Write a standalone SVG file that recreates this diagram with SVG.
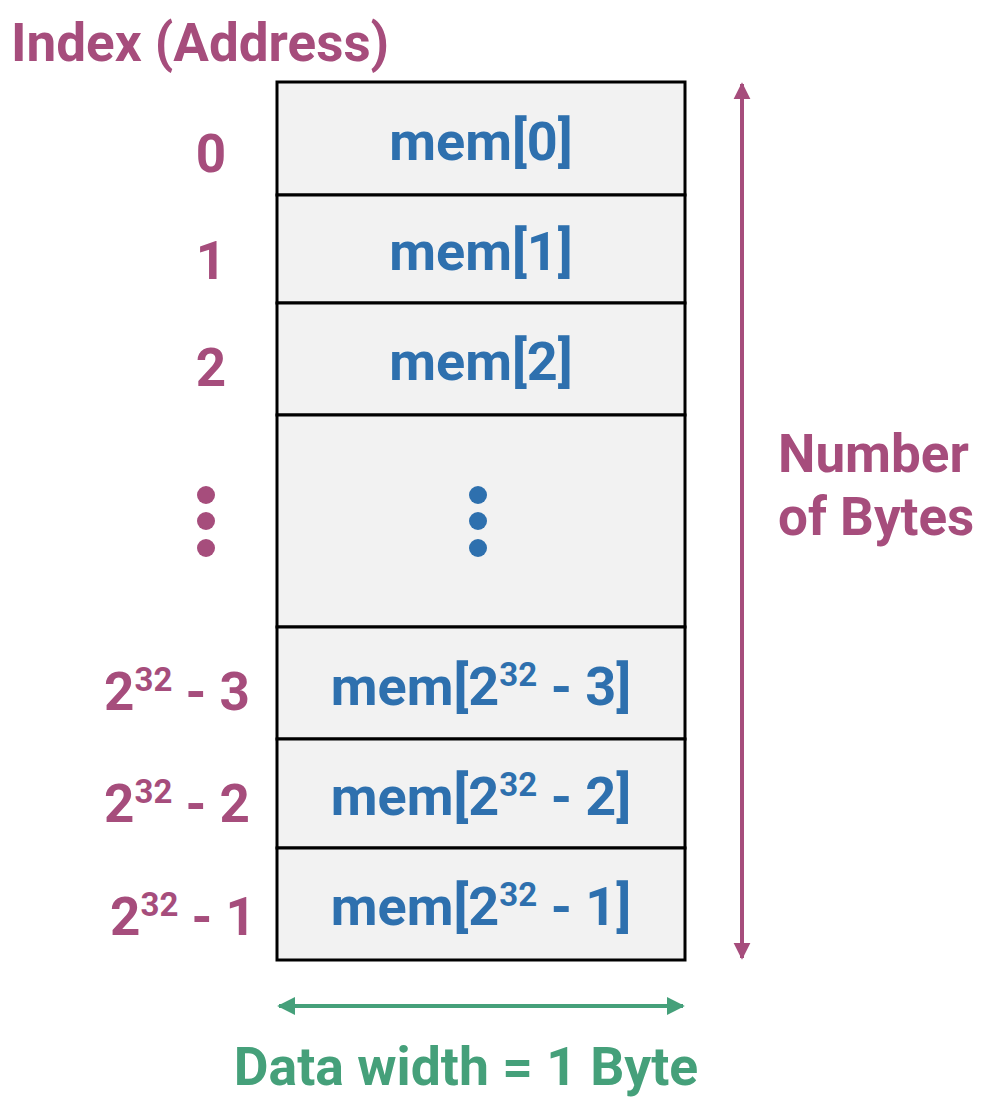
<svg xmlns="http://www.w3.org/2000/svg" width="996" height="1108" viewBox="0 0 996 1108">
<style>
.cell{fill:#f2f2f2;stroke:#000;stroke-width:3}
.m{font-family:Roboto,"Liberation Sans",sans-serif;font-weight:bold;font-size:54px;fill:#2e70ae;text-anchor:middle}
.i{font-family:Roboto,"Liberation Sans",sans-serif;font-weight:bold;font-size:53px;fill:#a64d7c;text-anchor:middle}
.t{font-family:Roboto,"Liberation Sans",sans-serif;font-weight:bold;font-size:53px;fill:#a64d7c}
.g{font-family:Roboto,"Liberation Sans",sans-serif;font-weight:bold;font-size:53.5px;fill:#45a07a;text-anchor:middle}
.sup{font-size:33px}
.pd{fill:#a64d7c}.bd{fill:#2e70ae}
</style>
<defs>
<marker id="ap" viewBox="0 0 10 10" refX="9" refY="5" markerWidth="4.3" markerHeight="4.3" orient="auto-start-reverse"><path d="M0,0L10,5L0,10z" fill="#a64d7c"/></marker>
<marker id="ag" viewBox="0 0 10 10" refX="9" refY="5" markerWidth="4.5" markerHeight="4.5" orient="auto-start-reverse"><path d="M0,0L10,5L0,10z" fill="#45a07a"/></marker>
</defs>
<text class="t" x="11" y="61">Index (Address)</text>
<g id="row0"><rect class="cell" x="277" y="82" width="408" height="113"/><text class="m" x="481" y="160">mem[0]</text><text class="i" x="211" y="172">0</text></g>
<g id="row1"><rect class="cell" x="277" y="195" width="408" height="108"/><text class="m" x="481" y="270">mem[1]</text><text class="i" x="211" y="279">1</text></g>
<g id="row2"><rect class="cell" x="277" y="303" width="408" height="112"/><text class="m" x="481" y="380">mem[2]</text><text class="i" x="211" y="386">2</text></g>
<g id="rowdots"><rect class="cell" x="277" y="415" width="408" height="212"/>
<circle class="bd" cx="478" cy="495" r="9"/><circle class="bd" cx="478" cy="521" r="9"/><circle class="bd" cx="478" cy="548" r="9"/>
<circle class="pd" cx="206" cy="495" r="9"/><circle class="pd" cx="206" cy="521" r="9"/><circle class="pd" cx="206" cy="548" r="9"/></g>
<g id="row3"><rect class="cell" x="277" y="627" width="408" height="112"/><text class="m" x="481" y="705">mem[2<tspan class="sup" dy="-19">32</tspan><tspan dy="19"> - 3]</tspan></text><text class="i" x="177" y="710">2<tspan class="sup" dy="-19">32</tspan><tspan dy="19"> - 3</tspan></text></g>
<g id="row4"><rect class="cell" x="277" y="739" width="408" height="109"/><text class="m" x="481" y="815">mem[2<tspan class="sup" dy="-19">32</tspan><tspan dy="19"> - 2]</tspan></text><text class="i" x="177" y="822">2<tspan class="sup" dy="-19">32</tspan><tspan dy="19"> - 2</tspan></text></g>
<g id="row5"><rect class="cell" x="277" y="848" width="408" height="112"/><text class="m" x="481" y="925">mem[2<tspan class="sup" dy="-19">32</tspan><tspan dy="19"> - 1]</tspan></text><text class="i" x="183" y="935">2<tspan class="sup" dy="-19">32</tspan><tspan dy="19"> - 1</tspan></text></g>
<g id="connectors">
<line x1="742" y1="84" x2="742" y2="958" stroke="#a64d7c" stroke-width="4" marker-start="url(#ap)" marker-end="url(#ap)"/>
<line x1="279" y1="1006" x2="683" y2="1006" stroke="#45a07a" stroke-width="4" marker-start="url(#ag)" marker-end="url(#ag)"/>
</g>
<text class="t" x="778" y="472">Number</text>
<text class="t" x="778" y="535">of Bytes</text>
<text class="g" x="466" y="1085">Data width = 1 Byte</text>
</svg>
